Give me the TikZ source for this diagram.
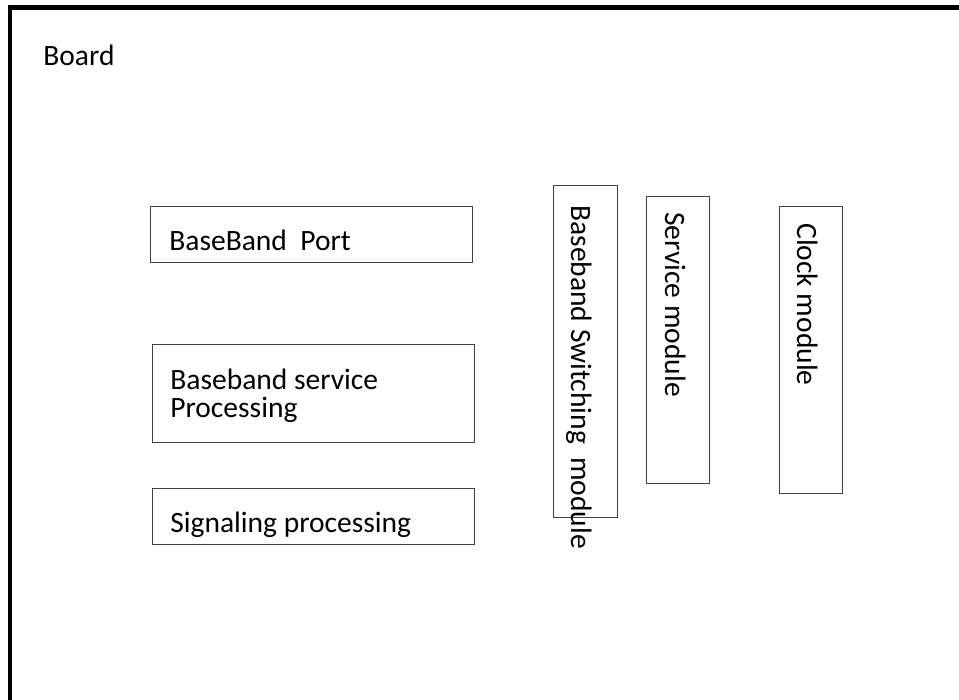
\documentclass[tikz,border=0pt]{standalone}
\usepackage{fontspec}
\setmainfont{Carlito}
\usepackage{tikz}

\begin{document}
\begin{tikzpicture}[x=0.02cm,y=-0.02cm,
    blk/.style={draw=black!75,line width=0.6pt,anchor=north west,inner sep=0pt},
    lbl/.style={anchor=base west,inner sep=0pt,font=\fontsize{16.8}{17}\selectfont},
    vlbl/.style={lbl,rotate=-90}]
        \clip (0,0) rectangle (959,699);
        \fill[white] (0,0) rectangle (959,699);
        \draw[line width=2.7pt] (10,7.5) rectangle (1000,740);

        \node[lbl] (boardtxt) at (43,66) {Board};

        \node[blk,minimum width=6.44cm,minimum height=1.12cm] (port) at (150,206) {};
        \node[blk,minimum width=6.44cm,minimum height=1.96cm] (bbproc) at (152,344) {};
        \node[blk,minimum width=6.44cm,minimum height=1.12cm] (sigproc) at (152,488) {};
        \node[blk,minimum width=1.28cm,minimum height=6.64cm] (bbswitch) at (553,185) {};
        \node[blk,minimum width=1.26cm,minimum height=5.74cm] (svcmod) at (646,196) {};
        \node[blk,minimum width=1.26cm,minimum height=5.74cm] (clkmod) at (779,206) {};

        \node[lbl] (porttxt) at (169,250.5) {BaseBand\ \ Port};
        \node[lbl] (bbproctxt) at (170,389) {Baseband service};
        \node[lbl] (bbproctxt2) at (170,417) {Processing};
        \node[lbl] (sigproctxt) at (170,532) {Signaling processing};
        \node[vlbl] (bbswitchtxt) at (571,205) {Baseband Switching\ \ module};
        \node[vlbl] (svcmodtxt) at (665,212) {Service module};
        \node[vlbl] (clkmodtxt) at (797,223) {Clock module};
    \end{tikzpicture}
\end{document}
